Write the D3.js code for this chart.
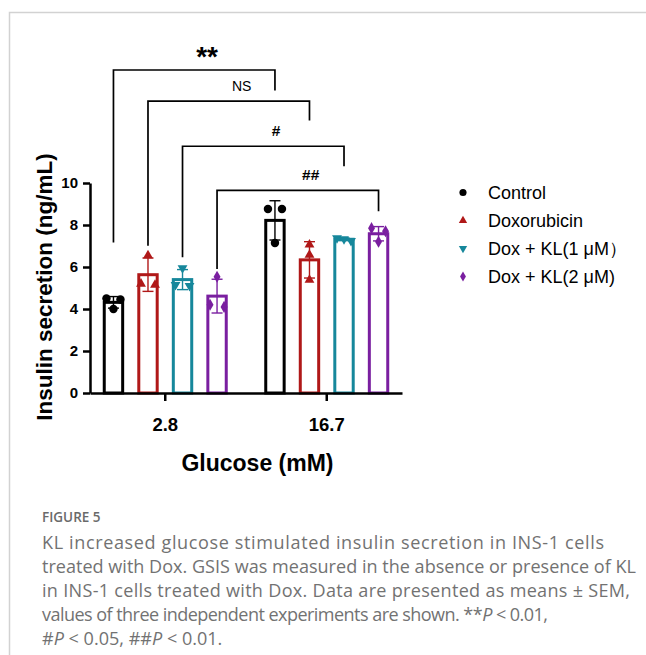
<!DOCTYPE html>
<html>
<head>
<meta charset="utf-8">
<script src="https://cdn.jsdelivr.net/npm/d3@7"></script>
<style>
    html, body { margin: 0; padding: 0; background: #fff; }
    svg { display: block; }
</style>
</head>
<body>
<div class="charts-div"></div>
<script>
// groups on the x axis (glucose, mM)
const groups = ["2.8", "16.7"];
// treatment series
const seriesNames = ["Control", "Doxorubicin", "Dox + KL(1 μM）", "Dox + KL(2 μM)"];
const seriesColors = ["#000000", "#b01818", "#16879b", "#7a1fa0"];
const seriesSymbols = ["circle", "triangleUp", "triangleDown", "diamond"];

// replicate values (ng/mL) per series, per group
const controlValues = [[4.5, 4.45, 4.0], [8.76, 8.76, 7.14]];
const doxValues = [[6.55, 5.15, 5.2], [7.06, 6.58, 5.38]];
const kl1Values = [[5.95, 5.1, 5.15], [7.38, 7.33, 7.25]];
const kl2Values = [[5.54, 4.2, 4.1], [7.85, 7.7, 7.2]];
const replicates = [controlValues, doxValues, kl1Values, kl2Values];

const yTicks = [0, 2, 4, 6, 8, 10];

// comparison brackets: [group, series] ends, heights in ng/mL
const brackets = [
    { from: [0, 0], to: [1, 0], top: 15.38, leftEnd: 7.17, rightEnd: 14.41, label: "**" },
    { from: [0, 1], to: [1, 1], top: 13.9, leftEnd: 7.01, rightEnd: 12.98, label: "NS" },
    { from: [0, 2], to: [1, 2], top: 11.75, leftEnd: 6.47, rightEnd: 10.8, label: "#" },
    { from: [0, 3], to: [1, 3], top: 9.65, leftEnd: 5.9, rightEnd: 8.65, label: "##" }
];

const captionTitle = "FIGURE 5";
const captionLines = [
    [["KL increased glucose stimulated insulin secretion in INS-1 cells", false]],
    [["treated with Dox. GSIS was measured in the absence or presence of KL", false]],
    [["in INS-1 cells treated with Dox. Data are presented as means ± SEM,", false]],
    [["values of three independent experiments are shown. **", false], ["P", true], [" < 0.01,", false]],
    [["#", false], ["P", true], [" < 0.05, ##", false], ["P", true], [" < 0.01.", false]]
];
// right ends of the wrapped caption lines (the last one is left natural)
const captionLineEnds = [604, 636, 630, 548, null];

const width = 646;
const height = 655;
const font = "'Liberation Sans', Arial, sans-serif";

const svg = d3.select(".charts-div").append("svg").attr("width", width).attr("height", height);

// page frame
svg.append("path")
    .attr("d", `M9.5,655 V12.5 H646`)
    .attr("fill", "none")
    .attr("stroke", "#d2d2d2")
    .attr("stroke-width", 1.5);

const x0 = d3.scaleBand().domain(groups).range([90, 402]).paddingInner(0.226).paddingOuter(0.079);
const x1 = d3.scaleBand().domain(d3.range(seriesNames.length)).range([0, x0.bandwidth()]).paddingInner(0.38).paddingOuter(0);
const y = d3.scaleLinear().domain([0, 10]).range([393, 183]);

const barCenter = (g, s) => x0(groups[g]) + x1(s) + x1.bandwidth() / 2;

const symbolFor = (name, size) => {
    const type = name === "circle" ? d3.symbolCircle
        : name === "diamond" ? d3.symbolDiamond
        : d3.symbolTriangle;
    return d3.symbol().type(type).size(size)();
};

// bars, error bars and points
const barStroke = 3;
replicates.forEach((bySeries, s) => {
    const color = seriesColors[s];
    bySeries.forEach((vals, g) => {
        const mean = d3.mean(vals);
        const sd = d3.deviation(vals);
        const cx = barCenter(g, s);
        const left = x0(groups[g]) + x1(s);

        svg.append("rect")
            .attr("x", left + barStroke / 2)
            .attr("y", y(mean))
            .attr("width", x1.bandwidth() - barStroke)
            .attr("height", y(0) - y(mean))
            .attr("fill", "#fff")
            .attr("stroke", color)
            .attr("stroke-width", barStroke);

        const eb = svg.append("g").attr("stroke", color).attr("stroke-width", 1.4);
        eb.append("line").attr("x1", cx).attr("x2", cx).attr("y1", y(mean - sd)).attr("y2", y(mean + sd));
        [mean - sd, mean + sd].forEach((v) => {
            eb.append("line").attr("x1", cx - 5.5).attr("x2", cx + 5.5).attr("y1", y(v)).attr("y2", y(v));
        });

        // spread points that sit close together
        const sorted = vals.map((v, i) => ({ v, i })).sort((a, b) => b.v - a.v);
        const clusters = [];
        sorted.forEach((p) => {
            const last = clusters[clusters.length - 1];
            if (last && Math.abs(last[last.length - 1].v - p.v) < 0.4) last.push(p);
            else clusters.push([p]);
        });
        clusters.forEach((cl) => {
            const offs = cl.length === 1 ? [0] : cl.length === 2 ? [-7, 7] : [-7, 0, 7];
            cl.forEach((p, k) => {
                svg.append("path")
                    .attr("d", symbolFor(seriesSymbols[s], seriesSymbols[s] === "circle" ? 56 : 42))
                    .attr("transform", `translate(${cx + offs[k]},${y(p.v)})` + (seriesSymbols[s] === "triangleDown" ? " rotate(180)" : ""))
                    .attr("fill", color);
            });
        });
    });
});

// y axis
const yAxis = svg.append("g")
    .attr("transform", "translate(90,0)")
    .call(d3.axisLeft(y).tickValues(yTicks).tickSize(7).tickSizeOuter(0).tickPadding(5));
yAxis.select(".domain").attr("stroke-width", 2.5);
yAxis.selectAll(".tick line").attr("stroke-width", 2.5);
yAxis.selectAll(".tick text")
    .attr("font-family", font).attr("font-weight", "bold").attr("font-size", 15).attr("fill", "#000");

// x axis
const xAxis = svg.append("g")
    .attr("transform", `translate(0,${y(0)})`)
    .call(d3.axisBottom(x0).tickSize(8).tickSizeOuter(0));
xAxis.select(".domain").attr("stroke-width", 2.5);
xAxis.selectAll(".tick line").attr("stroke-width", 2.5);
xAxis.selectAll(".tick text")
    .attr("y", 38).attr("dy", null)
    .attr("font-family", font).attr("font-weight", "bold").attr("font-size", 18.5).attr("fill", "#000");

// axis titles
svg.append("text")
    .attr("transform", "translate(52,287) rotate(-90)")
    .attr("text-anchor", "middle")
    .attr("font-family", font).attr("font-weight", "bold").attr("font-size", 22.5)
    .text("Insulin secretion (ng/mL)");

svg.append("text")
    .attr("x", 257.5).attr("y", 471)
    .attr("text-anchor", "middle")
    .attr("font-family", font).attr("font-weight", "bold").attr("font-size", 23)
    .text("Glucose (mM)");

// significance brackets
brackets.forEach((b) => {
    const xl = barCenter(b.from[0], b.from[1]);
    const xr = barCenter(b.to[0], b.to[1]);
    svg.append("path")
        .attr("d", `M${xl},${y(b.leftEnd)} V${y(b.top)} H${xr} V${y(b.rightEnd)}`)
        .attr("fill", "none").attr("stroke", "#000").attr("stroke-width", 1.7);
    const isStar = b.label === "**";
    svg.append("text")
        .attr("x", xl + (xr - xl) * 0.58)
        .attr("y", y(b.top) - (isStar ? 4.5 : 10))
        .attr("text-anchor", "middle")
        .attr("font-family", font)
        .attr("font-weight", b.label === "NS" ? "normal" : "bold")
        .attr("font-size", isStar ? 28 : b.label === "NS" ? 14 : 15.5)
        .text(b.label);
});

// legend
const legend = svg.append("g").attr("transform", "translate(463,192.5)");
seriesNames.forEach((name, i) => {
    const row = legend.append("g").attr("transform", `translate(0,${i * 28})`);
    row.append("path")
        .attr("d", symbolFor(seriesSymbols[i], seriesSymbols[i] === "circle" ? 40 : 30))
        .attr("transform", seriesSymbols[i] === "triangleDown" ? "rotate(180)" : null)
        .attr("fill", seriesColors[i]);
    row.append("text")
        .attr("x", 25).attr("y", 6.5)
        .attr("font-family", font).attr("font-size", 18)
        .text(name);
});

// caption
const capFont = "'Open Sans', 'Noto Sans', sans-serif";
const capX = 42;
svg.append("text")
    .attr("x", capX).attr("y", 522)
    .attr("font-family", capFont).attr("font-weight", 600).attr("font-size", 13.5)
    .attr("fill", "#6a6a6a")
    .text(captionTitle);

const capGroup = svg.append("g");
const capTexts = captionLines.map((parts, i) => {
    const t = capGroup.append("text")
        .attr("x", capX).attr("y", 549 + i * 24)
        .attr("font-family", capFont).attr("font-size", 16)
        .attr("fill", "#727272");
    parts.forEach(([str, italic]) => {
        t.append("tspan").attr("font-style", italic ? "italic" : null).text(str);
    });
    return t;
});
// size the caption so the widest line fills the column, then even out the line ends
const widest = d3.max(capTexts, (t) => t.node().getComputedTextLength());
const capSize = 16 * (captionLineEnds[1] - capX) / widest;
capTexts.forEach((t, i) => {
    t.attr("font-size", capSize);
    if (captionLineEnds[i]) {
        t.attr("textLength", captionLineEnds[i] - capX).attr("lengthAdjust", "spacing");
    }
});
</script>
</body>
</html>
